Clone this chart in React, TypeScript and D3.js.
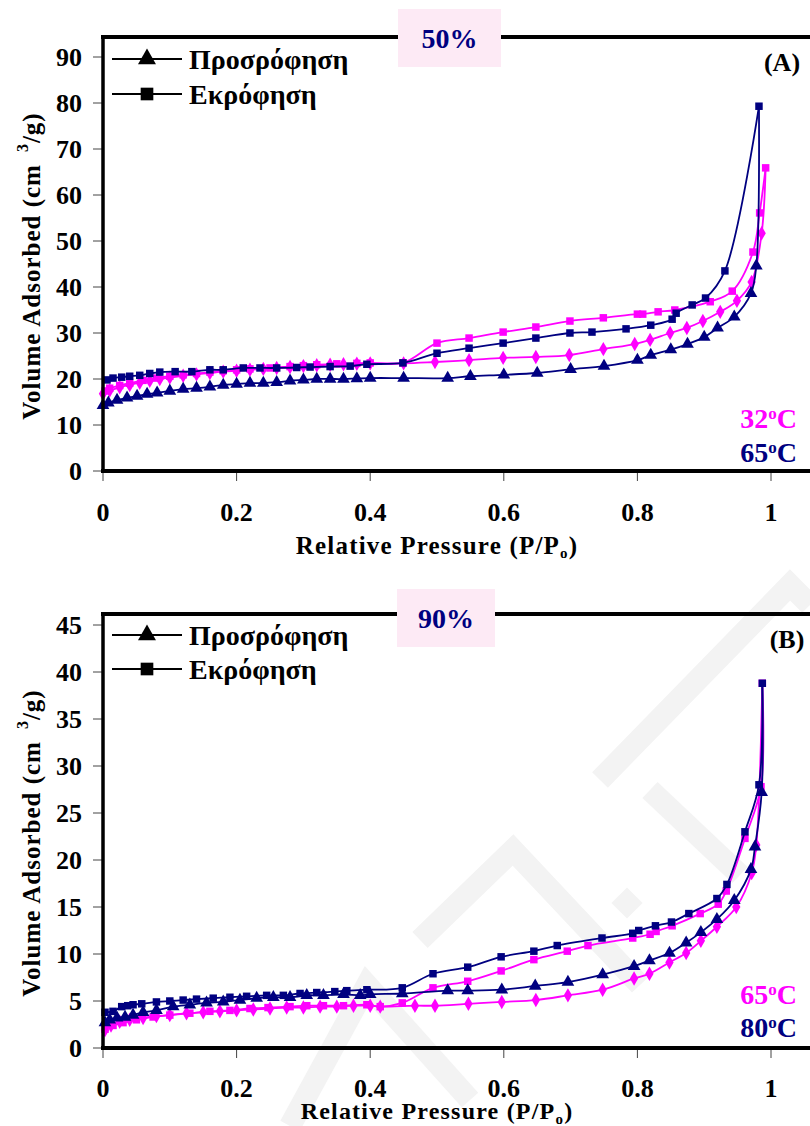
import React from 'react';
import * as d3 from 'd3';

const W = 810;
const H = 1126;
const MAGENTA = '#FF00FF';
const NAVY = '#000080';
const FONT = '"Liberation Serif", "Times New Roman", serif';

const X_TICKS = [0, 0.2, 0.4, 0.6, 0.8, 1];
const X_TICK_LABELS = ['0', '0.2', '0.4', '0.6', '0.8', '1'];
const A_Y_TICKS = [0, 10, 20, 30, 40, 50, 60, 70, 80, 90];
const B_Y_TICKS = [0, 5, 10, 15, 20, 25, 30, 35, 40, 45];

const LEGEND_LABELS = ['Προσρόφηση', 'Εκρόφηση'];

// ---- Panel A (50%) ----
// 32°C adsorption (magenta diamonds)
const A32_ADS_X = [0.0, 0.01, 0.025, 0.04, 0.055, 0.07, 0.085, 0.10, 0.12, 0.14, 0.16, 0.18, 0.20, 0.22, 0.24, 0.26, 0.28, 0.30, 0.32, 0.34, 0.36, 0.38, 0.40, 0.45, 0.497, 0.548, 0.599, 0.648, 0.698, 0.749, 0.796, 0.819, 0.849, 0.874, 0.898, 0.924, 0.949, 0.971, 0.986];
const A32_ADS_Y = [16.8, 17.5, 18.2, 18.7, 19.2, 19.6, 20.0, 20.3, 20.7, 21.0, 21.3, 21.6, 21.8, 22.0, 22.2, 22.4, 22.6, 22.8, 23.0, 23.1, 23.2, 23.3, 23.4, 23.4, 23.7, 24.1, 24.6, 24.8, 25.2, 26.5, 27.6, 28.5, 30.0, 31.1, 32.6, 34.6, 37.0, 41.1, 51.7];
// 32°C desorption (magenta squares)
const A32_DES_X = [0.992, 0.983, 0.973, 0.942, 0.909, 0.856, 0.831, 0.808, 0.80, 0.749, 0.699, 0.648, 0.599, 0.548, 0.50, 0.449, 0.40, 0.38, 0.35, 0.32, 0.30, 0.28, 0.25, 0.22, 0.20, 0.18, 0.16, 0.14, 0.12, 0.10, 0.08, 0.06, 0.04, 0.025, 0.01, 0.003];
const A32_DES_Y = [65.9, 56.1, 47.6, 39.1, 36.8, 35.0, 34.6, 34.1, 34.1, 33.3, 32.6, 31.3, 30.2, 28.9, 27.8, 23.5, 23.5, 23.4, 23.3, 23.1, 22.9, 22.7, 22.4, 22.2, 22.0, 21.8, 21.5, 21.2, 20.9, 20.6, 20.2, 19.7, 19.1, 18.6, 18.0, 17.4];
// 65°C adsorption (navy triangles)
const A65_ADS_X = [0.0, 0.008, 0.021, 0.036, 0.051, 0.066, 0.081, 0.10, 0.12, 0.14, 0.16, 0.18, 0.20, 0.22, 0.24, 0.26, 0.28, 0.30, 0.32, 0.34, 0.36, 0.38, 0.40, 0.45, 0.516, 0.55, 0.60, 0.65, 0.70, 0.75, 0.80, 0.82, 0.85, 0.875, 0.90, 0.92, 0.945, 0.97, 0.978];
const A65_ADS_Y = [14.3, 14.8, 15.4, 15.9, 16.3, 16.7, 17.0, 17.4, 17.8, 18.0, 18.3, 18.7, 18.9, 19.1, 19.1, 19.3, 19.6, 19.8, 20.0, 20.0, 20.0, 20.1, 20.2, 20.2, 20.2, 20.6, 20.9, 21.3, 22.1, 22.8, 24.1, 25.2, 26.4, 27.6, 29.1, 31.1, 33.5, 38.6, 44.6];
// 65°C desorption (navy squares)
const A65_DES_X = [0.982, 0.931, 0.902, 0.882, 0.858, 0.852, 0.82, 0.783, 0.732, 0.699, 0.648, 0.599, 0.548, 0.50, 0.449, 0.395, 0.37, 0.34, 0.31, 0.29, 0.26, 0.235, 0.21, 0.18, 0.16, 0.133, 0.108, 0.085, 0.07, 0.055, 0.04, 0.028, 0.015, 0.006];
const A65_DES_Y = [79.3, 43.5, 37.6, 36.1, 34.3, 33.0, 31.7, 30.9, 30.2, 30.0, 28.9, 27.8, 26.7, 25.6, 23.5, 23.2, 22.8, 22.7, 22.6, 22.5, 22.4, 22.4, 22.4, 22.0, 22.0, 21.6, 21.6, 21.5, 21.2, 20.8, 20.6, 20.4, 20.2, 19.8];

// ---- Panel B (90%) ----
// 65°C adsorption (magenta diamonds)
const B65_ADS_X = [0.003, 0.012, 0.025, 0.04, 0.06, 0.08, 0.10, 0.125, 0.15, 0.175, 0.20, 0.225, 0.25, 0.275, 0.30, 0.325, 0.35, 0.375, 0.40, 0.415, 0.467, 0.497, 0.547, 0.597, 0.648, 0.696, 0.748, 0.795, 0.818, 0.848, 0.873, 0.895, 0.919, 0.948, 0.971, 0.978];
const B65_ADS_Y = [1.9, 2.4, 2.8, 3.0, 3.2, 3.4, 3.5, 3.7, 3.8, 3.9, 4.0, 4.1, 4.2, 4.3, 4.3, 4.4, 4.4, 4.5, 4.5, 4.4, 4.5, 4.5, 4.7, 4.9, 5.1, 5.6, 6.2, 7.4, 7.9, 9.1, 10.1, 11.4, 12.9, 15.0, 18.6, 21.6];
// 65°C desorption (magenta squares)
const B65_DES_X = [0.987, 0.985, 0.961, 0.933, 0.921, 0.894, 0.852, 0.828, 0.819, 0.793, 0.726, 0.695, 0.645, 0.596, 0.546, 0.494, 0.448, 0.415, 0.395, 0.36, 0.33, 0.305, 0.28, 0.247, 0.22, 0.19, 0.16, 0.13, 0.10, 0.075, 0.05, 0.03, 0.015, 0.003];
const B65_DES_Y = [38.8, 27.8, 22.3, 16.7, 15.3, 14.3, 13.0, 12.4, 12.1, 11.7, 10.9, 10.3, 9.4, 8.2, 7.1, 6.4, 4.8, 4.4, 4.6, 4.5, 4.5, 4.5, 4.4, 4.3, 4.2, 4.0, 3.9, 3.7, 3.5, 3.3, 3.0, 2.7, 2.4, 2.0];
// 80°C adsorption (navy triangles)
const B80_ADS_X = [0.003, 0.01, 0.021, 0.033, 0.045, 0.06, 0.08, 0.105, 0.13, 0.155, 0.18, 0.205, 0.23, 0.255, 0.28, 0.305, 0.33, 0.36, 0.385, 0.40, 0.448, 0.516, 0.546, 0.597, 0.647, 0.696, 0.748, 0.795, 0.818, 0.848, 0.873, 0.895, 0.919, 0.945, 0.97, 0.976, 0.986];
const B80_ADS_Y = [2.7, 3.0, 3.2, 3.3, 3.5, 3.8, 4.0, 4.4, 4.6, 4.8, 4.9, 5.1, 5.3, 5.4, 5.4, 5.6, 5.6, 5.7, 5.6, 5.7, 5.8, 6.1, 6.1, 6.2, 6.6, 7.0, 7.8, 8.7, 9.3, 10.1, 11.2, 12.3, 13.7, 15.7, 19.0, 21.4, 27.2];
// 80°C desorption (navy squares)
const B80_DES_X = [0.987, 0.982, 0.961, 0.934, 0.919, 0.877, 0.851, 0.827, 0.802, 0.793, 0.747, 0.68, 0.645, 0.596, 0.546, 0.494, 0.448, 0.395, 0.365, 0.347, 0.32, 0.295, 0.27, 0.245, 0.215, 0.19, 0.165, 0.14, 0.12, 0.10, 0.08, 0.058, 0.045, 0.037, 0.028, 0.015, 0.003];
const B80_DES_Y = [38.8, 28.0, 23.0, 17.4, 15.9, 14.3, 13.4, 13.0, 12.5, 12.2, 11.7, 10.9, 10.3, 9.7, 8.6, 7.9, 6.4, 6.2, 6.1, 6.0, 5.9, 5.8, 5.6, 5.6, 5.5, 5.4, 5.3, 5.2, 5.1, 5.0, 4.9, 4.7, 4.6, 4.5, 4.4, 3.9, 3.8];

type Pt = [number, number];
const zip = (xs: number[], ys: number[]): Pt[] => xs.map((x, i) => [x, ys[i]]);

const symSquare = d3.symbol().type(d3.symbolSquare).size(56)() as string;
const symDiamond = d3.symbol().type(d3.symbolDiamond).size(60)() as string;
const symTriangle = d3.symbol().type(d3.symbolTriangle).size(70)() as string;
const legTriangle = d3.symbol().type(d3.symbolTriangle).size(140)() as string;
const legSquare = d3.symbol().type(d3.symbolSquare).size(160)() as string;

interface SeriesDef {
  pts: Pt[];
  tail?: Pt;
  color: string;
  sym: string;
}

interface PanelProps {
  top: number;
  axisY: number;
  yMax: number;
  yMaxPx: number;
  yTicks: number[];
  series: SeriesDef[];
  box: { x0: number; x1: number; y0: number; y1: number; label: string };
  panelLabel: string;
  panelLabelX: number;
  legendRows: number[];
  temps: { text: string; color: string; y: number }[];
  tickLabelY: number;
  titleY: number;
  titleSize: number;
  yTitleCY: number;
}

const x = d3.scaleLinear().domain([0, 1]).range([103, 771]);

function Temp({ text, color, y }: { text: string; color: string; y: number }) {
  return (
    <text x={797} y={y} textAnchor="end" fontFamily={FONT} fontWeight="bold" fontSize={28} fill={color}>
      {text}
      <tspan fontSize={17} baselineShift="super">o</tspan>
      <tspan>C</tspan>
    </text>
  );
}

function Panel(p: PanelProps) {
  const y = d3.scaleLinear().domain([0, p.yMax]).range([p.axisY, p.yMaxPx]);
  const line = d3
    .line<Pt>()
    .x((d) => x(d[0]))
    .y((d) => y(d[1]))
    .curve(d3.curveCatmullRom.alpha(0.5));
  return (
    <g>
      {p.series.map((s, i) => {
        const lp = s.tail ? [...s.pts, s.tail] : s.pts;
        return (
          <g key={i}>
            <path d={line(lp) || ''} fill="none" stroke={s.color} strokeWidth={1.8} />
            {s.pts.map((d, j) => (
              <path key={j} d={s.sym} transform={`translate(${x(d[0])},${y(d[1])})`} fill={s.color} />
            ))}
          </g>
        );
      })}
      {p.yTicks.map((t) => (
        <g key={t}>
          <line x1={93} x2={103} y1={y(t)} y2={y(t)} stroke="#444" strokeWidth={1} />
          <text x={82} y={y(t)} textAnchor="end" dominantBaseline="central" fontFamily={FONT} fontWeight="bold" fontSize={26} fill="#000">
            {t}
          </text>
        </g>
      ))}
      {X_TICKS.map((t, i) => (
        <g key={t}>
          <line x1={x(t)} x2={x(t)} y1={p.axisY} y2={p.axisY + 10} stroke="#444" strokeWidth={1} />
          <text x={x(t)} y={p.tickLabelY} textAnchor="middle" dominantBaseline="central" fontFamily={FONT} fontWeight="bold" fontSize={26} fill="#000">
            {X_TICK_LABELS[i]}
          </text>
        </g>
      ))}
      <line x1={103} x2={103} y1={p.top - 2} y2={p.axisY + 2} stroke="#000" strokeWidth={3.5} />
      <line x1={101} x2={W} y1={p.top} y2={p.top} stroke="#000" strokeWidth={4} />
      <line x1={101} x2={W} y1={p.axisY} y2={p.axisY} stroke="#000" strokeWidth={4} />
      <rect x={p.box.x0} y={p.box.y0} width={p.box.x1 - p.box.x0} height={p.box.y1 - p.box.y0} fill="#FDEAF5" />
      <text
        x={(p.box.x0 + p.box.x1) / 2}
        y={(p.box.y0 + p.box.y1) / 2}
        textAnchor="middle"
        dominantBaseline="central"
        fontFamily={FONT}
        fontWeight="bold"
        fontSize={28}
        fill={NAVY}
      >
        {p.box.label}
      </text>
      <text x={p.panelLabelX} y={p.top + 25} textAnchor="middle" dominantBaseline="central" fontFamily={FONT} fontWeight="bold" fontSize={26} fill="#000">
        {p.panelLabel}
      </text>
      {p.legendRows.map((ry, i) => (
        <g key={i}>
          <line x1={112} x2={182} y1={ry} y2={ry} stroke="#000" strokeWidth={2} />
          <path d={i === 0 ? legTriangle : legSquare} transform={`translate(147,${ry})`} fill="#000" />
          <text x={189} y={ry} dominantBaseline="central" fontFamily={FONT} fontWeight="bold" fontSize={28} fill="#000">
            {LEGEND_LABELS[i]}
          </text>
        </g>
      ))}
      {p.temps.map((t, i) => (
        <Temp key={i} {...t} />
      ))}
      <text x={437} y={p.titleY} textAnchor="middle" dominantBaseline="central" fontFamily={FONT} fontWeight="bold" fontSize={p.titleSize} letterSpacing={1.2} fill="#000">
        Relative Pressure (P/P
        <tspan fontSize={15} baselineShift="sub">o</tspan>
        <tspan>)</tspan>
      </text>
      <text
        transform={`translate(31,${p.yTitleCY}) rotate(-90)`}
        textAnchor="middle"
        dominantBaseline="central"
        fontFamily={FONT}
        fontWeight="bold"
        fontSize={25}
        letterSpacing={1}
        fill="#000"
      >
        Volume Adsorbed (cm
        <tspan dx={12} fontSize={16} baselineShift="super">3</tspan>
        <tspan>/g)</tspan>
      </text>
    </g>
  );
}

function Watermark() {
  const c = '#f3f3f3';
  return (
    <g fill="none" stroke={c} strokeWidth={22} strokeLinejoin="miter">
      <polyline points="290,1126 367,985 470,1100" />
      <polyline points="420,940 513,850 640,985" />
      <polyline points="600,780 790,585 810,605" />
      <polyline points="650,790 740,875" />
      <rect x={616} y={892} width={22} height={22} fill={c} stroke="none" transform="rotate(45 627 903)" />
    </g>
  );
}

export default function App() {
  const seriesA: SeriesDef[] = [
    { pts: zip(A32_ADS_X, A32_ADS_Y), tail: [A32_DES_X[0], A32_DES_Y[0]], color: MAGENTA, sym: symDiamond },
    { pts: zip(A32_DES_X, A32_DES_Y), color: MAGENTA, sym: symSquare },
    { pts: zip(A65_ADS_X, A65_ADS_Y), tail: [A65_DES_X[0], A65_DES_Y[0]], color: NAVY, sym: symTriangle },
    { pts: zip(A65_DES_X, A65_DES_Y), color: NAVY, sym: symSquare },
  ];
  const seriesB: SeriesDef[] = [
    { pts: zip(B65_ADS_X, B65_ADS_Y), tail: [B65_DES_X[0], B65_DES_Y[0]], color: MAGENTA, sym: symDiamond },
    { pts: zip(B65_DES_X, B65_DES_Y), color: MAGENTA, sym: symSquare },
    { pts: zip(B80_ADS_X, B80_ADS_Y), tail: [B80_DES_X[0], B80_DES_Y[0]], color: NAVY, sym: symTriangle },
    { pts: zip(B80_DES_X, B80_DES_Y), color: NAVY, sym: symSquare },
  ];
  return (
    <svg width={W} height={H} style={{ position: 'absolute', left: 0, top: 0, background: '#fff' }}>
      <rect x={0} y={0} width={W} height={H} fill="#fff" />
      <Watermark />
      <Panel
        top={37}
        axisY={471}
        yMax={90}
        yMaxPx={57}
        yTicks={A_Y_TICKS}
        series={seriesA}
        box={{ x0: 398, x1: 501, y0: 9, y1: 67, label: '50%' }}
        panelLabel="(A)"
        panelLabelX={782}
        legendRows={[59, 94]}
        temps={[
          { text: '32', color: MAGENTA, y: 428 },
          { text: '65', color: NAVY, y: 462 },
        ]}
        tickLabelY={512}
        titleY={545}
        titleSize={25}
        yTitleCY={266}
      />
      <Panel
        top={614}
        axisY={1048}
        yMax={45}
        yMaxPx={625}
        yTicks={B_Y_TICKS}
        series={seriesB}
        box={{ x0: 397, x1: 495, y0: 589, y1: 647, label: '90%' }}
        panelLabel="(B)"
        panelLabelX={787}
        legendRows={[635, 669]}
        temps={[
          { text: '65', color: MAGENTA, y: 1004 },
          { text: '80', color: NAVY, y: 1037 },
        ]}
        tickLabelY={1088}
        titleY={1111}
        titleSize={24}
        yTitleCY={843}
      />
    </svg>
  );
}
